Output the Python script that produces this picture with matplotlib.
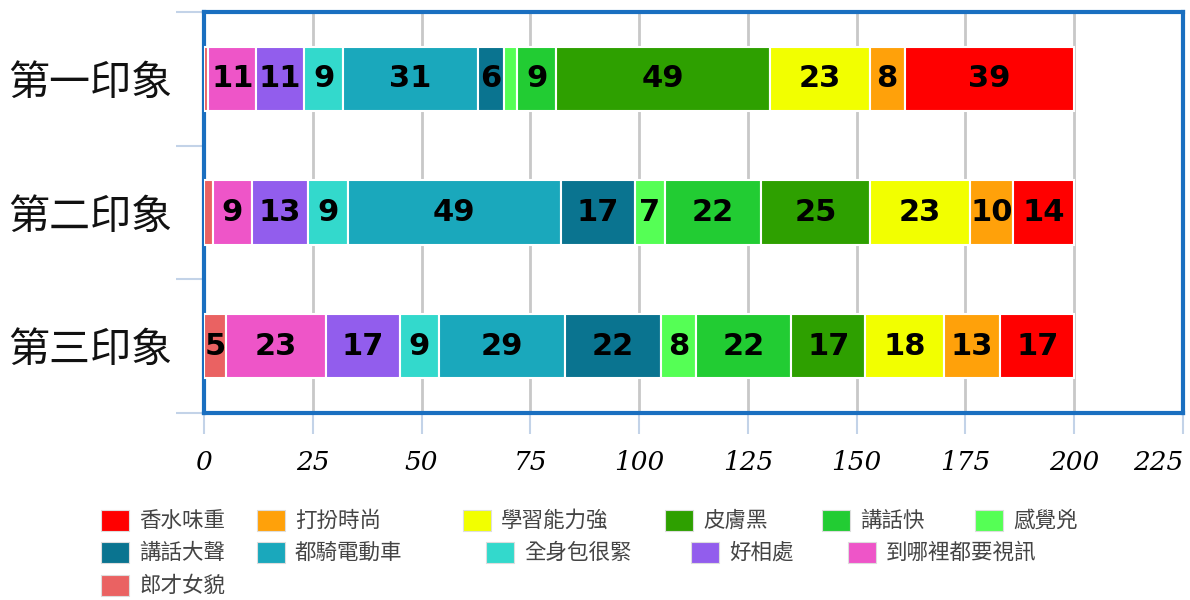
import matplotlib
matplotlib.use("Agg")
import matplotlib.pyplot as plt
from matplotlib.patches import Rectangle
import numpy as np

categories = ["第一印象", "第二印象", "第三印象"]
series_names = ["郎才女貌", "到哪裡都要視訊", "好相處", "全身包很緊", "都騎電動車", "講話大聲",
                "感覺兇", "講話快", "皮膚黑", "學習能力強", "打扮時尚", "香水味重"]
series_colors = ["#ea6262", "#ee55c8", "#925ded", "#33d9cc", "#1aa8bc", "#0a7490",
                 "#55ff55", "#22cc33", "#2ea000", "#f2ff00", "#ffa10a", "#ff0000"]
values = {
    "郎才女貌":       [1, 2, 5],
    "到哪裡都要視訊": [11, 9, 23],
    "好相處":         [11, 13, 17],
    "全身包很緊":     [9, 9, 9],
    "都騎電動車":     [31, 49, 29],
    "講話大聲":       [6, 17, 22],
    "感覺兇":         [3, 7, 8],
    "講話快":         [9, 22, 22],
    "皮膚黑":         [49, 25, 17],
    "學習能力強":     [23, 23, 18],
    "打扮時尚":       [8, 10, 13],
    "香水味重":       [39, 14, 17],
}
x_ticks = [0, 25, 50, 75, 100, 125, 150, 175, 200, 225]

W, H = 1190, 600
fig = plt.figure(figsize=(W / 100, H / 100), dpi=100)
ax = fig.add_axes([204 / W, 1 - 413 / H, (1183 - 204) / W, (413 - 12) / H])

y = np.arange(len(categories))
left = np.zeros(len(categories))
for name, col in zip(series_names, series_colors):
    v = np.array(values[name], dtype=float)
    bars = ax.barh(y, v, left=left, height=0.48, color=col, edgecolor="white",
                   linewidth=1.5, zorder=3)
    labels = [f"{int(a)}" if a >= 5 else "" for a in v]
    ax.bar_label(bars, labels=labels, label_type="center", fontsize=22,
                 fontweight="bold", color="black", family="DejaVu Sans", zorder=4)
    left += v

ax.set_xlim(0, 225)
ax.set_ylim(2.5, -0.5)
ax.set_xticks(x_ticks)
ax.set_xticklabels([str(t) for t in x_ticks], fontsize=19, fontstyle="italic",
                   family="DejaVu Serif")
ax.get_xticklabels()[-1].set_horizontalalignment("right")
ax.tick_params(axis="x", length=15, width=1.5, color="#c3d3e8", pad=12)
ax.grid(axis="x", color="#c8c8c8", linewidth=2, zorder=0)
ax.set_axisbelow(True)

ax.set_yticks(y)
ax.set_yticklabels(categories, fontsize=29.5, family=["Noto Sans CJK TC", "DejaVu Sans"],
                   fontweight="light", color="#111111")
ax.tick_params(axis="y", which="major", length=0, pad=23)
ax.set_yticks([-0.5, 0.5, 1.5, 2.5], minor=True)
ax.tick_params(axis="y", which="minor", length=20, width=1.5, color="#c3d3e8")

for s in ax.spines.values():
    s.set_color("#1a6fc0")
    s.set_linewidth(3)

# legend (flow layout)
legend_order = ["香水味重", "打扮時尚", "學習能力強", "皮膚黑", "講話快", "感覺兇",
                "講話大聲", "都騎電動車", "全身包很緊", "好相處", "到哪裡都要視訊",
                "郎才女貌"]
legend_x = [101, 257, 463, 665, 822, 975, 101, 257, 486, 691, 848, 101]
legend_y = [521, 521, 521, 521, 521, 521, 553, 553, 553, 553, 553, 586]
color_of = dict(zip(series_names, series_colors))
for name, lx, ly in zip(legend_order, legend_x, legend_y):
    fig.patches.append(Rectangle(((lx) / W, 1 - (ly + 10) / H), 28 / W, 21 / H,
                                 transform=fig.transFigure, facecolor=color_of[name],
                                 edgecolor="#dddddd", linewidth=0.8))
    fig.text((lx + 38) / W, 1 - ly / H, name, fontsize=15.5, color="#444444",
             va="center", ha="left", family=["Noto Sans CJK TC", "DejaVu Sans"])

fig.savefig("out.png", dpi=100, facecolor="white")
